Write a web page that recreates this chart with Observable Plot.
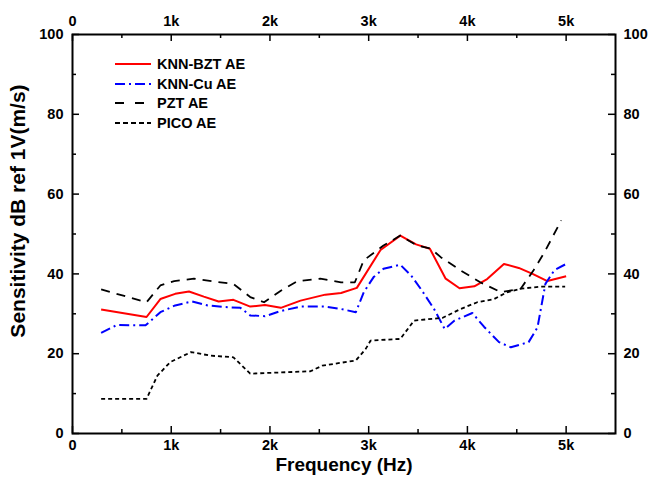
<!DOCTYPE html>
<html>
<head>
<meta charset="utf-8">
<script src="https://cdn.jsdelivr.net/npm/d3@7"></script>
<script src="https://cdn.jsdelivr.net/npm/@observablehq/plot@0.6"></script>
<style>
  html, body { margin: 0; padding: 0; background: #fff; }
  #chart { width: 650px; height: 482px; }
  svg { font-family: Arial, "Liberation Sans", sans-serif; }
</style>
</head>
<body>
<div id="chart"></div>
<script>
// ---- Data ----
const bztFreq = [290, 750, 890, 1040, 1180, 1330, 1480, 1630, 1800, 1950, 2110, 2310, 2560, 2720, 2880, 3120, 3320, 3480, 3620, 3780, 3920, 4070, 4200, 4370, 4520, 4660, 4810, 5000];
const bztVals = [31.1, 29.2, 33.7, 35.0, 35.6, 34.3, 33.1, 33.5, 31.8, 32.2, 31.5, 33.3, 34.8, 35.2, 36.5, 46.0, 49.6, 47.4, 46.3, 38.8, 36.4, 36.9, 38.7, 42.5, 41.5, 40.0, 38.2, 39.4];

const cuFreq = [290, 450, 740, 890, 1040, 1210, 1370, 1530, 1700, 1800, 1950, 2110, 2310, 2560, 2720, 2870, 2950, 3050, 3150, 3320, 3430, 3540, 3660, 3770, 3870, 4050, 4170, 4320, 4440, 4620, 4710, 4790, 4880, 5000];
const cuVals = [25.2, 27.2, 27.1, 30.4, 32.1, 33.1, 32.1, 31.7, 31.5, 29.6, 29.4, 30.7, 31.8, 31.8, 31.2, 30.4, 35.4, 39.2, 41.3, 42.3, 39.6, 35.8, 31.3, 26.2, 28.3, 30.2, 26.7, 22.9, 21.6, 22.9, 26.6, 37.5, 40.9, 42.5];

const pztFreq = [290, 750, 890, 1030, 1230, 1430, 1630, 1800, 1940, 2110, 2280, 2510, 2720, 2860, 2950, 3150, 3320, 3490, 3630, 3730, 3930, 4130, 4340, 4540, 4670, 4780, 4950];
const pztVals = [36.1, 32.9, 37.1, 38.2, 38.8, 38.1, 37.5, 34.2, 32.9, 35.8, 38.2, 38.8, 37.9, 37.9, 43.4, 47.1, 49.6, 47.1, 46.3, 44.2, 40.9, 37.9, 35.4, 36.3, 40.9, 45.4, 53.4];

const picoFreq = [290, 750, 860, 990, 1200, 1400, 1630, 1800, 2410, 2530, 2870, 2970, 3020, 3320, 3460, 3750, 3930, 4100, 4270, 4400, 4540, 4740, 4990];
const picoVals = [8.7, 8.7, 14.5, 17.9, 20.4, 19.5, 19.1, 15.0, 15.6, 17.0, 18.3, 21.2, 23.3, 23.7, 28.3, 29.0, 31.2, 32.9, 33.7, 35.4, 36.3, 36.8, 36.8];

const seriesNames = ["KNN-BZT AE", "KNN-Cu AE", "PZT AE", "PICO AE"];
const seriesColors = ["#ff0000", "#0000ff", "#000000", "#000000"];
const seriesDash = [null, "10,4,2,4", "9,7", "4,3"];

const xMajor = [0, 1000, 2000, 3000, 4000, 5000];
const xMinor = [500, 1500, 2500, 3500, 4500];
const yMajor = [0, 20, 40, 60, 80, 100];
const yMinor = [10, 30, 50, 70, 90];

const xTitle = "Frequency (Hz)";
const yTitle = "Sensitivity dB ref 1V(m/s)";

// ---- Build ----
const W = 650, H = 482;
const mL = 72, mR = 35, mT = 34, mB = 49;
const fh = H - mT - mB, fw = W - mL - mR;

function toRows(freq, vals, name) { return freq.map((f, i) => ({f, v: vals[i], name})); }
const allSeries = [
  toRows(bztFreq, bztVals, seriesNames[0]),
  toRows(cuFreq, cuVals, seriesNames[1]),
  toRows(pztFreq, pztVals, seriesNames[2]),
  toRows(picoFreq, picoVals, seriesNames[3])
];

const kfmt = d => d === 0 ? "0" : (d / 1000) + "k";
const axisStyle = {fontSize: 14.5, fontWeight: "bold", fill: "#000"};

const lineMarks = allSeries.map((rows, i) => Plot.line(rows, {
  x: "f", y: "v", stroke: seriesColors[i], strokeWidth: i < 2 ? 2 : 1.8,
  strokeDasharray: seriesDash[i], strokeLinejoin: "round", strokeLinecap: "butt"
}));

const chart = Plot.plot({
  width: W, height: H,
  marginLeft: mL, marginRight: mR, marginTop: mT, marginBottom: mB,
  x: {domain: [0, 5500]},
  y: {domain: [0, 100]},
  style: {fontFamily: "Arial, 'Liberation Sans', sans-serif", background: "#fff", color: "#000"},
  marks: [
    Plot.axisX(xMajor, {anchor: "bottom", tickSize: 0, tickPadding: 6, tickFormat: kfmt, label: null, ...axisStyle}),
    Plot.axisX(xMajor, {anchor: "top", tickSize: 0, tickPadding: 9, tickFormat: kfmt, label: null, ...axisStyle}),
    Plot.axisY(yMajor, {anchor: "left", tickSize: 0, tickPadding: 9, label: null, ...axisStyle}),
    Plot.axisY(yMajor, {anchor: "right", tickSize: 0, tickPadding: 8, label: null, ...axisStyle}),
    // inward ticks
    Plot.tickX(xMajor, {x: d => d, insetTop: fh - 7, stroke: "#000", strokeWidth: 1.5}),
    Plot.tickX(xMajor, {x: d => d, insetBottom: fh - 7, stroke: "#000", strokeWidth: 1.5}),
    Plot.tickX(xMinor, {x: d => d, insetTop: fh - 4, stroke: "#000", strokeWidth: 1.5}),
    Plot.tickX(xMinor, {x: d => d, insetBottom: fh - 4, stroke: "#000", strokeWidth: 1.5}),
    Plot.tickY(yMajor, {y: d => d, insetRight: fw - 7, stroke: "#000", strokeWidth: 1.5}),
    Plot.tickY(yMajor, {y: d => d, insetLeft: fw - 7, stroke: "#000", strokeWidth: 1.5}),
    Plot.tickY(yMinor, {y: d => d, insetRight: fw - 4, stroke: "#000", strokeWidth: 1.5}),
    Plot.tickY(yMinor, {y: d => d, insetLeft: fw - 4, stroke: "#000", strokeWidth: 1.5}),
    ...lineMarks,
    Plot.frame({stroke: "#000", strokeWidth: 2}),
    Plot.text([xTitle], {frameAnchor: "bottom", dy: 37, text: d => d, fontSize: 19, fontWeight: "bold", fill: "#000", textAnchor: "middle"}),
    Plot.text([yTitle], {frameAnchor: "left", dx: -54, dy: -23, rotate: -90, text: d => d, fontSize: 21, fontWeight: "bold", fill: "#000", textAnchor: "middle"})
  ]
});

// Legend inside the frame (top-left)
const svg = d3.select(chart);
const leg = svg.append("g").attr("font-family", "Arial, 'Liberation Sans', sans-serif");
const rowY = [64, 84, 103, 123];
seriesNames.forEach((name, i) => {
  leg.append("line")
    .attr("x1", 115).attr("x2", 151).attr("y1", rowY[i]).attr("y2", rowY[i])
    .attr("stroke", seriesColors[i]).attr("stroke-width", i < 2 ? 2 : 1.8)
    .attr("stroke-dasharray", i === 2 ? "9,11" : (i === 3 ? "5,3" : seriesDash[i]));
  leg.append("text")
    .attr("x", 157).attr("y", rowY[i]).attr("dy", "0.35em")
    .attr("text-anchor", "start")
    .attr("font-size", 14.5).attr("font-weight", "bold").attr("fill", "#000")
    .text(name);
});

document.getElementById("chart").appendChild(chart);
</script>
</body>
</html>
